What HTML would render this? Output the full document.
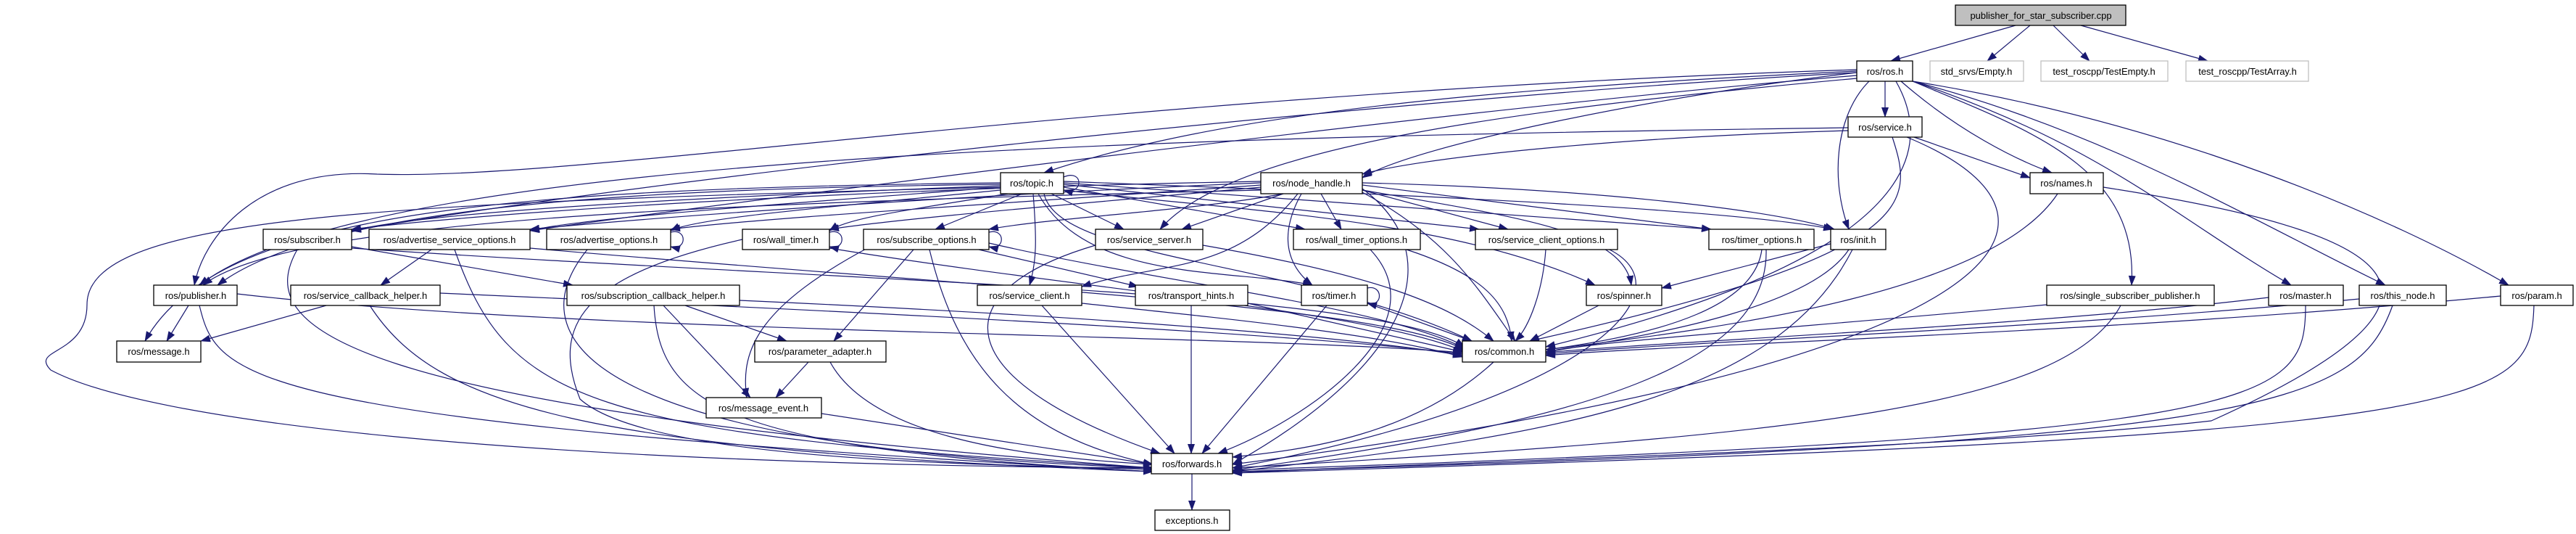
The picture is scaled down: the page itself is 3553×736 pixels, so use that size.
<!DOCTYPE html>
<html><head><meta charset="utf-8"><style>
html,body{margin:0;padding:0;background:#fff;}
svg{display:block;}
text{font-family:"Liberation Sans",sans-serif;font-size:13px;text-anchor:middle;fill:#000;}
.e{fill:none;stroke:#191970;stroke-width:1.2;marker-end:url(#a);}
.n{fill:#fff;stroke:#000;stroke-width:1.3;}
.g{fill:#fff;stroke:#bfbfbf;stroke-width:1.3;}
</style></head><body>
<svg width="3553" height="736" viewBox="0 0 3553 736" xmlns="http://www.w3.org/2000/svg">
<defs><marker id="a" markerUnits="userSpaceOnUse" markerWidth="14" markerHeight="10" refX="13" refY="5" orient="auto"><path d="M0,0 L14,5 L0,10 z" fill="#191970"/></marker></defs>
<g>
<path class="e" d="M2780,35 L2608,84"/>
<path class="e" d="M2800,35 L2741,84"/>
<path class="e" d="M2832,35 L2882,84"/>
<path class="e" d="M2870,35 L3045,84"/>
<path class="e" d="M2600,112 L2600,161"/>
<path class="e" d="M2622,112 C2700,180 2780,220 2830,238"/>
<path class="e" d="M2578,112 C2530,160 2525,250 2550,316"/>
<path class="e" d="M2638,112 C2800,180 2950,230 2940,393"/>
<path class="e" d="M2638,112 C2900,200 3000,300 3160,393"/>
<path class="e" d="M2638,112 C2900,180 3100,300 3290,393"/>
<path class="e" d="M2638,112 C3000,170 3300,300 3460,393"/>
<path class="e" d="M2615,112 C2665,200 2660,350 2132,478"/>
<path class="e" d="M2561,100 C2300,130 1950,200 1879,245"/>
<path class="e" d="M2561,98 C2100,120 1700,150 1440,238"/>
<path class="e" d="M2561,96 C1500,130 800,250 520,240 C350,230 280,330 268,393"/>
<path class="e" d="M2561,100 C2000,130 1000,230 485,318"/>
<path class="e" d="M2561,104 C2000,150 1000,280 731,318"/>
<path class="e" d="M2561,108 C2100,150 1700,200 1600,316"/>
<path class="e" d="M2640,189 L2800,245"/>
<path class="e" d="M2549,180 C2200,190 1950,220 1879,240"/>
<path class="e" d="M2549,176 C1500,190 500,220 275,393"/>
<path class="e" d="M2610,189 C2640,280 2650,350 2110,470"/>
<path class="e" d="M2630,189 C2900,300 2800,500 1700,640"/>
<path class="e" d="M1467,244 C1495,232 1495,270 1467,262"/>
<path class="e" d="M1380,256 C1000,270 600,290 485,318"/>
<path class="e" d="M1380,258 C1100,280 800,300 731,318"/>
<path class="e" d="M1380,262 C1150,285 960,300 925,318"/>
<path class="e" d="M1390,267 C1250,290 1170,300 1144,318"/>
<path class="e" d="M1410,267 L1290,316"/>
<path class="e" d="M1450,267 L1550,316"/>
<path class="e" d="M1467,258 L1800,316"/>
<path class="e" d="M1467,254 L2040,316"/>
<path class="e" d="M1467,252 L2360,316"/>
<path class="e" d="M1467,250 C2000,270 2400,290 2528,316"/>
<path class="e" d="M1380,254 C900,260 450,280 300,393"/>
<path class="e" d="M1380,252 C700,260 300,290 200,470"/>
<path class="e" d="M1440,267 C1460,360 1800,360 2030,470"/>
<path class="e" d="M1380,258 C500,280 120,300 120,420 C120,490 40,480 70,510 C200,580 700,640 1590,645"/>
<path class="e" d="M1425,267 C1430,330 1430,360 1420,393"/>
<path class="e" d="M1432,267 C1500,390 1700,370 1810,393"/>
<path class="e" d="M1467,262 C1700,290 2000,300 2200,393"/>
<path class="e" d="M1739,250 C1200,260 700,290 485,316"/>
<path class="e" d="M1739,252 C1300,270 900,300 731,316"/>
<path class="e" d="M1739,255 C1400,280 1050,300 925,316"/>
<path class="e" d="M1739,258 C1500,280 1250,300 1144,316"/>
<path class="e" d="M1770,267 C1650,290 1450,300 1364,316"/>
<path class="e" d="M1770,267 L1630,316"/>
<path class="e" d="M1822,267 L1850,316"/>
<path class="e" d="M1879,262 L2080,316"/>
<path class="e" d="M1879,255 L2360,316"/>
<path class="e" d="M1879,252 C2200,260 2450,290 2530,316"/>
<path class="e" d="M1739,262 C1000,280 400,300 280,393"/>
<path class="e" d="M1790,267 C1700,380 1600,360 1492,395"/>
<path class="e" d="M1795,267 C1760,330 1780,370 1810,393"/>
<path class="e" d="M1879,262 C2100,300 2240,320 2250,393"/>
<path class="e" d="M1879,265 C2000,330 2040,400 2090,470"/>
<path class="e" d="M1879,260 C2000,350 1950,500 1700,640"/>
<path class="e" d="M485,340 L790,393"/>
<path class="e" d="M485,342 C1200,390 1900,400 2020,478"/>
<path class="e" d="M410,344 C350,450 450,560 1590,645"/>
<path class="e" d="M595,344 L525,393"/>
<path class="e" d="M731,342 C1400,400 1900,420 2020,482"/>
<path class="e" d="M627,344 C700,550 800,600 1590,645"/>
<path class="e" d="M925,320 C948,314 948,346 925,340"/>
<path class="e" d="M810,344 C700,480 850,620 1590,645"/>
<path class="e" d="M1144,320 C1167,314 1167,346 1144,340"/>
<path class="e" d="M1024,330 C800,380 760,450 800,550 C900,640 1400,640 1590,647"/>
<path class="e" d="M1144,342 C1500,400 1900,430 2020,485"/>
<path class="e" d="M1364,320 C1387,314 1387,346 1364,340"/>
<path class="e" d="M1350,344 L1570,395"/>
<path class="e" d="M1260,344 L1150,470"/>
<path class="e" d="M1200,340 C1050,420 1020,480 1030,548"/>
<path class="e" d="M1282,344 C1320,500 1400,600 1590,640"/>
<path class="e" d="M1364,335 C1600,390 1900,420 2020,480"/>
<path class="e" d="M1659,338 C1900,380 2000,420 2060,470"/>
<path class="e" d="M1511,338 C1300,400 1300,520 1600,625"/>
<path class="e" d="M1940,344 C2050,380 2080,420 2085,470"/>
<path class="e" d="M1890,344 C1990,450 1800,580 1680,625"/>
<path class="e" d="M2132,344 C2128,400 2110,450 2090,470"/>
<path class="e" d="M2220,344 C2330,400 2200,550 1700,645"/>
<path class="e" d="M2430,344 C2420,420 2300,460 2132,482"/>
<path class="e" d="M2436,344 C2440,500 2200,580 1700,648"/>
<path class="e" d="M2525,336 L2292,397"/>
<path class="e" d="M2550,344 C2500,420 2300,460 2132,485"/>
<path class="e" d="M2555,344 C2450,550 2150,600 1700,650"/>
<path class="e" d="M260,421 L230,470"/>
<path class="e" d="M327,405 C800,460 1700,460 2017,486"/>
<path class="e" d="M275,421 C300,520 320,580 1590,650"/>
<path class="e" d="M450,421 L277,470"/>
<path class="e" d="M607,404 C1200,430 1800,460 2017,488"/>
<path class="e" d="M510,421 C600,560 800,620 1590,650"/>
<path class="e" d="M945,421 L1085,470"/>
<path class="e" d="M915,421 L1035,548"/>
<path class="e" d="M902,421 C910,560 1000,620 1590,650"/>
<path class="e" d="M1020,414 C1600,440 1900,470 2017,490"/>
<path class="e" d="M1437,421 L1620,625"/>
<path class="e" d="M1492,418 C1700,440 1900,460 2017,492"/>
<path class="e" d="M1643,421 L1643,625"/>
<path class="e" d="M1721,418 L2017,485"/>
<path class="e" d="M1886,397 C1908,392 1908,424 1886,418"/>
<path class="e" d="M1886,418 L2030,470"/>
<path class="e" d="M1830,421 L1658,625"/>
<path class="e" d="M2205,421 L2110,470"/>
<path class="e" d="M2823,420 C2500,450 2200,470 2132,485"/>
<path class="e" d="M2925,421 C2850,560 2500,600 1700,645"/>
<path class="e" d="M3129,410 C2800,450 2300,470 2132,486"/>
<path class="e" d="M3180,421 C3180,560 3130,600 1700,648"/>
<path class="e" d="M3254,412 C2800,455 2300,472 2132,488"/>
<path class="e" d="M3300,421 C3250,560 3130,610 1700,650"/>
<path class="e" d="M3449,408 C2900,460 2300,475 2132,490"/>
<path class="e" d="M3495,421 C3490,560 3450,600 1700,652"/>
<path class="e" d="M2838,267 C2750,400 2400,450 2132,482"/>
<path class="e" d="M2901,258 C3300,320 3450,400 3050,580 C2700,620 1900,640 1700,652"/>
<path class="e" d="M1115,499 L1070,548"/>
<path class="e" d="M1145,499 C1200,600 1400,630 1590,640"/>
<path class="e" d="M2060,499 C1950,600 1800,620 1700,630"/>
<path class="e" d="M1133,570 L1590,640"/>
<path class="e" d="M1644,653 L1644,703"/>
</g>
<g>
<rect x="2697" y="7" width="235" height="28" fill="#bfbfbf" stroke="#000" stroke-width="1.3"/><text x="2815" y="26">publisher_for_star_subscriber.cpp</text>
<rect class="n" x="2561" y="84" width="77" height="28"/><text x="2600" y="103">ros/ros.h</text>
<rect class="g" x="2662" y="84" width="129" height="28"/><text x="2726" y="103">std_srvs/Empty.h</text>
<rect class="g" x="2815" y="84" width="175" height="28"/><text x="2902" y="103">test_roscpp/TestEmpty.h</text>
<rect class="g" x="3015" y="84" width="169" height="28"/><text x="3100" y="103">test_roscpp/TestArray.h</text>
<rect class="n" x="2549" y="161" width="102" height="28"/><text x="2600" y="180">ros/service.h</text>
<rect class="n" x="1380" y="238" width="87" height="29"/><text x="1423" y="257">ros/topic.h</text>
<rect class="n" x="1739" y="238" width="140" height="29"/><text x="1809" y="257">ros/node_handle.h</text>
<rect class="n" x="2800" y="238" width="101" height="29"/><text x="2850" y="257">ros/names.h</text>
<rect class="n" x="363" y="316" width="122" height="28"/><text x="424" y="335">ros/subscriber.h</text>
<rect class="n" x="509" y="316" width="222" height="28"/><text x="620" y="335">ros/advertise_service_options.h</text>
<rect class="n" x="754" y="316" width="171" height="28"/><text x="840" y="335">ros/advertise_options.h</text>
<rect class="n" x="1024" y="316" width="120" height="28"/><text x="1084" y="335">ros/wall_timer.h</text>
<rect class="n" x="1191" y="316" width="173" height="28"/><text x="1278" y="335">ros/subscribe_options.h</text>
<rect class="n" x="1511" y="316" width="148" height="28"/><text x="1585" y="335">ros/service_server.h</text>
<rect class="n" x="1784" y="316" width="175" height="28"/><text x="1871" y="335">ros/wall_timer_options.h</text>
<rect class="n" x="2035" y="316" width="196" height="28"/><text x="2133" y="335">ros/service_client_options.h</text>
<rect class="n" x="2357" y="316" width="145" height="28"/><text x="2430" y="335">ros/timer_options.h</text>
<rect class="n" x="2525" y="316" width="76" height="28"/><text x="2563" y="335">ros/init.h</text>
<rect class="n" x="212" y="393" width="115" height="28"/><text x="270" y="412">ros/publisher.h</text>
<rect class="n" x="401" y="393" width="206" height="28"/><text x="504" y="412">ros/service_callback_helper.h</text>
<rect class="n" x="782" y="393" width="238" height="28"/><text x="901" y="412">ros/subscription_callback_helper.h</text>
<rect class="n" x="1348" y="393" width="144" height="28"/><text x="1420" y="412">ros/service_client.h</text>
<rect class="n" x="1566" y="393" width="155" height="28"/><text x="1643" y="412">ros/transport_hints.h</text>
<rect class="n" x="1795" y="393" width="91" height="28"/><text x="1840" y="412">ros/timer.h</text>
<rect class="n" x="2188" y="393" width="104" height="28"/><text x="2240" y="412">ros/spinner.h</text>
<rect class="n" x="2823" y="393" width="231" height="28"/><text x="2938" y="412">ros/single_subscriber_publisher.h</text>
<rect class="n" x="3129" y="393" width="103" height="28"/><text x="3180" y="412">ros/master.h</text>
<rect class="n" x="3254" y="393" width="120" height="28"/><text x="3314" y="412">ros/this_node.h</text>
<rect class="n" x="3449" y="393" width="100" height="28"/><text x="3499" y="412">ros/param.h</text>
<rect class="n" x="161" y="470" width="116" height="29"/><text x="219" y="489">ros/message.h</text>
<rect class="n" x="1041" y="470" width="181" height="29"/><text x="1131" y="489">ros/parameter_adapter.h</text>
<rect class="n" x="2017" y="470" width="115" height="29"/><text x="2075" y="489">ros/common.h</text>
<rect class="n" x="974" y="548" width="159" height="28"/><text x="1053" y="567">ros/message_event.h</text>
<rect class="n" x="1588" y="625" width="112" height="28"/><text x="1644" y="644">ros/forwards.h</text>
<rect class="n" x="1593" y="703" width="103" height="28"/><text x="1644" y="722">exceptions.h</text>
</g>
</svg>
</body></html>
